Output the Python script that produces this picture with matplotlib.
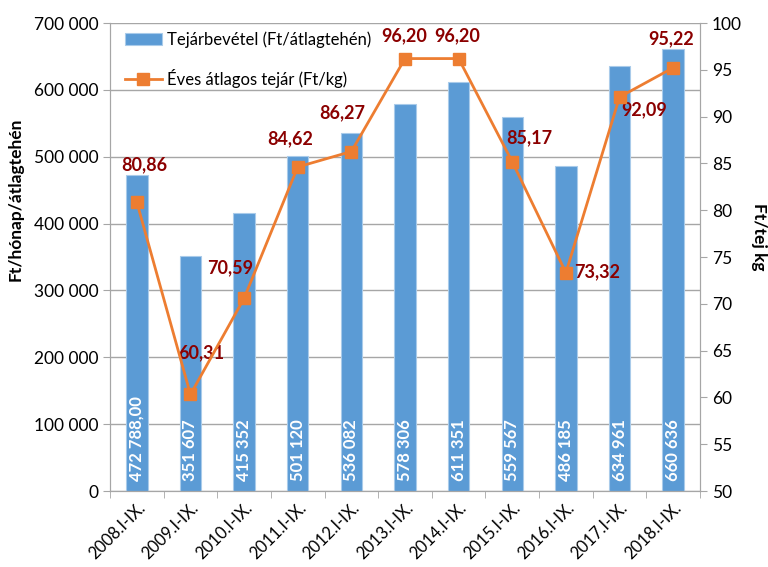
import numpy as np
import matplotlib.pyplot as plt

plt.rcParams['font.family'] = ['Lato', 'DejaVu Sans']

years = ['2008.I-IX.', '2009.I-IX.', '2010.I-IX.', '2011.I-IX.', '2012.I-IX.', '2013.I-IX.',
         '2014.I-IX.', '2015.I-IX.', '2016.I-IX.', '2017.I-IX.', '2018.I-IX.']
revenue = [472788.00, 351607, 415352, 501120, 536082, 578306, 611351, 559567, 486185, 634961, 660636]
revenue_labels = ['472 788,00', '351 607', '415 352', '501 120', '536 082', '578 306',
                  '611 351', '559 567', '486 185', '634 961', '660 636']
price = [80.86, 60.31, 70.59, 84.62, 86.27, 96.20, 96.20, 85.17, 73.32, 92.09, 95.22]
price_labels = ['80,86', '60,31', '70,59', '84,62', '86,27', '96,20', '96,20', '85,17', '73,32', '92,09', '95,22']
# label offsets in pixels (dx, dy up) from each point
label_off = [(7, 37), (11, 42), (-14, 31), (-8, 28), (-9, 39), (-1, 23), (-1, 23),
             (17, 24), (31, 1), (25, -13), (-2, 29)]

bar_color = '#5B9BD5'
line_color = '#ED7D31'
lab_color = '#8B0000'
grid_color = '#A6A6A6'

fig = plt.figure(figsize=(7.68, 5.67), dpi=100)
ax = fig.add_axes([110 / 768, 1 - 491 / 567, 590 / 768, 468 / 567])
ax2 = ax.twinx()

x = np.arange(len(years))
ax.bar(x, revenue, width=0.4, color=bar_color, edgecolor='#A9CBEA', linewidth=0.8,
       zorder=2, label='Tejárbevétel (Ft/átlagtehén)')
for xi, lab in zip(x, revenue_labels):
    ax.text(xi, 15000, lab, rotation=90, ha='center', va='bottom', color='white',
            fontsize=12, fontweight='bold', zorder=3)

ax.set_xlim(-0.5, len(years) - 0.5)
ax.set_ylim(0, 700000)
ax.set_yticks(np.arange(0, 700001, 100000))
ax.set_yticklabels([f'{v:,}'.replace(',', ' ') for v in range(0, 700001, 100000)], fontsize=12.5)
ax.yaxis.grid(True, color=grid_color, linewidth=1, zorder=0)
ax.set_axisbelow(True)
ax.set_xticks(x)
ax.set_xticklabels(years, rotation=45, ha='right', rotation_mode='anchor', fontsize=12)
ax.set_xticks(np.arange(-0.5, len(years)), minor=True)
ax.tick_params(axis='x', which='major', length=0, pad=6)
ax.tick_params(axis='x', which='minor', length=5, color=grid_color)
ax.tick_params(axis='y', length=5, color=grid_color)

ax2.plot(x, price, color=line_color, linewidth=2, marker='s', markersize=8,
         zorder=4, label='Éves átlagos tejár (Ft/kg)')
ax2.set_ylim(50, 100)
ax2.set_yticks(np.arange(50, 101, 5))
ax2.tick_params(axis='y', length=5, color=grid_color, labelsize=12.5)
for xi, p, lab, (dx, dy) in zip(x, price, price_labels, label_off):
    ax2.annotate(lab, (xi, p), xytext=(dx * 0.72, dy * 0.72), textcoords='offset points',
                 ha='center', va='center', color=lab_color, fontsize=13, fontweight='bold')

# axis titles sit off-centre in the original
fig.text(16 / 768, 1 - 199 / 567, 'Ft/hónap/átlagtehén', rotation=90, ha='center', va='center',
         fontsize=12.5, fontweight='bold')
fig.text(759 / 768, 1 - 237 / 567, 'Ft/tej kg', rotation=270, ha='center', va='center',
         fontsize=12.5, fontweight='bold')

for a in (ax, ax2):
    for s in a.spines.values():
        s.set_color(grid_color)
    a.spines['top'].set_visible(False)

h1, l1 = ax.get_legend_handles_labels()
h2, l2 = ax2.get_legend_handles_labels()
ax2.legend(h1 + h2, l1 + l2, loc='upper left', bbox_to_anchor=(0.0, 1.015), frameon=False,
           fontsize=12, labelspacing=1.3, handlelength=2.2, handletextpad=0.3)

fig.savefig('out.png', dpi=100)
